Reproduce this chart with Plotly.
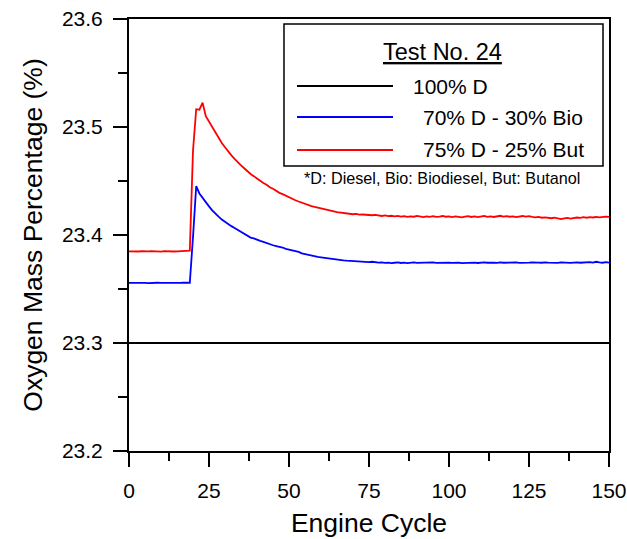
import plotly.graph_objects as go

# Engine cycle index
cycles = list(range(0, 151))

# 100% D: constant oxygen mass fraction
diesel = [23.3] * 151

# 70% D - 30% Bio
bio = [
    23.3556, 23.3557, 23.3555, 23.3556, 23.3558, 23.3556, 23.3555, 23.3557, 23.3556, 23.3558,
    23.3556, 23.3555, 23.3557, 23.3556, 23.3557, 23.3555, 23.3556, 23.3558, 23.3557, 23.3558,
    23.3980, 23.4452, 23.4385, 23.4342, 23.4301, 23.4265, 23.4228, 23.4196, 23.4170, 23.4143,
    23.4120, 23.4103, 23.4082, 23.4064, 23.4048, 23.4030, 23.4012, 23.3992, 23.3976, 23.3968,
    23.3955, 23.3946, 23.3937, 23.3925, 23.3914, 23.3905, 23.3898, 23.3893, 23.3884, 23.3872,
    23.3865, 23.3858, 23.3852, 23.3844, 23.3830, 23.3822, 23.3818, 23.3812, 23.3805, 23.3797,
    23.3793, 23.3788, 23.3786, 23.3780, 23.3776, 23.3772, 23.3769, 23.3765, 23.3762, 23.3760,
    23.3757, 23.3759, 23.3752, 23.3750, 23.3753, 23.3749, 23.3752, 23.3745, 23.3744, 23.3747,
    23.3742, 23.3745, 23.3740, 23.3743, 23.3746, 23.3741, 23.3744, 23.3739, 23.3743, 23.3746,
    23.3742, 23.3744, 23.3741, 23.3745, 23.3743, 23.3747, 23.3742, 23.3744, 23.3748, 23.3743,
    23.3745, 23.3741, 23.3746, 23.3744, 23.3740, 23.3743, 23.3746, 23.3742, 23.3745, 23.3741,
    23.3744, 23.3747, 23.3743, 23.3740, 23.3744, 23.3742, 23.3746, 23.3743, 23.3745, 23.3741,
    23.3744, 23.3747, 23.3742, 23.3745, 23.3748, 23.3744, 23.3746, 23.3742, 23.3745, 23.3743,
    23.3747, 23.3744, 23.3741, 23.3745, 23.3742, 23.3746, 23.3743, 23.3745, 23.3741, 23.3744,
    23.3747, 23.3743, 23.3745, 23.3742, 23.3748, 23.3744, 23.3752, 23.3746, 23.3743, 23.3748,
    23.3744,
]

# 75% D - 25% But
but = [
    23.3848, 23.3846, 23.3849, 23.3847, 23.3850, 23.3846, 23.3848, 23.3851, 23.3847, 23.3849,
    23.3846, 23.3850, 23.3848, 23.3852, 23.3847, 23.3849, 23.3851, 23.3848, 23.3853, 23.3856,
    23.4780, 23.5165, 23.5160, 23.5225, 23.5100, 23.5050, 23.4995, 23.4945, 23.4895, 23.4852,
    23.4812, 23.4770, 23.4738, 23.4705, 23.4672, 23.4645, 23.4618, 23.4590, 23.4565, 23.4545,
    23.4522, 23.4505, 23.4482, 23.4465, 23.4442, 23.4428, 23.4405, 23.4390, 23.4378, 23.4362,
    23.4350, 23.4335, 23.4322, 23.4310, 23.4298, 23.4288, 23.4276, 23.4268, 23.4260, 23.4252,
    23.4245, 23.4238, 23.4230, 23.4225, 23.4218, 23.4212, 23.4208, 23.4205, 23.4201, 23.4198,
    23.4192, 23.4195, 23.4188, 23.4190, 23.4186, 23.4189, 23.4183, 23.4187, 23.4185, 23.4176,
    23.4181, 23.4174, 23.4178, 23.4172, 23.4177, 23.4170, 23.4175, 23.4168, 23.4173, 23.4169,
    23.4176, 23.4171, 23.4165, 23.4172, 23.4168, 23.4174, 23.4167, 23.4171, 23.4176, 23.4169,
    23.4173, 23.4166, 23.4172, 23.4168, 23.4163, 23.4170, 23.4175, 23.4167, 23.4172, 23.4166,
    23.4171, 23.4177, 23.4168, 23.4173, 23.4167, 23.4174, 23.4178, 23.4170, 23.4175, 23.4169,
    23.4173, 23.4166, 23.4171, 23.4176, 23.4170, 23.4174, 23.4168, 23.4163, 23.4167, 23.4160,
    23.4164, 23.4158, 23.4155, 23.4160, 23.4152, 23.4148, 23.4154, 23.4158, 23.4152, 23.4157,
    23.4162, 23.4158, 23.4165, 23.4160, 23.4166, 23.4162, 23.4168, 23.4163, 23.4167, 23.4170,
    23.4168,
]

assert len(bio) == len(cycles) and len(but) == len(cycles)

series_names = ["100% D", "70% D - 30% Bio", "75% D - 25% But"]
series_colors = ["#000000", "#0000ff", "#ff0000"]
series_values = [diesel, bio, but]

FONT = "Arial, 'Liberation Sans', sans-serif"

fig = go.Figure()
for name, color, vals in zip(series_names, series_colors, series_values):
    fig.add_trace(go.Scatter(x=cycles, y=vals, mode="lines", name=name,
                             line=dict(color=color, width=1.8), showlegend=False))

# Legend panel drawn inside the plot
fig.add_shape(type="rect", xref="paper", yref="paper", x0=0.3229, x1=0.9875,
              y0=0.6597, y1=0.9884, line=dict(color="#000000", width=1.5),
              fillcolor="white", layer="above")
fig.add_annotation(xref="paper", yref="paper", x=0.654, y=0.924, text="<u>Test No. 24</u>",
                   showarrow=False, font=dict(family=FONT, size=23.5, color="#000"),
                   xanchor="center", yanchor="middle")
label_x = [0.5875, 0.6083, 0.6083]
label_y = [0.8449, 0.7731, 0.6968]
for name, color, lx, ly in zip(series_names, series_colors, label_x, label_y):
    fig.add_shape(type="line", xref="paper", yref="paper", x0=0.35, x1=0.55, y0=ly, y1=ly,
                  line=dict(color=color, width=1.8), layer="above")
    fig.add_annotation(xref="paper", yref="paper", x=lx, y=ly, text=name, showarrow=False,
                       font=dict(family=FONT, size=21, color="#000"),
                       xanchor="left", yanchor="middle")
fig.add_annotation(xref="paper", yref="paper", x=0.652, y=0.632,
                   text="*D: Diesel, Bio: Biodiesel, But: Butanol", showarrow=False,
                   font=dict(family=FONT, size=16.2, color="#000"),
                   xanchor="center", yanchor="middle")

axis_common = dict(showline=True, linecolor="#000", linewidth=2, mirror=True,
                   ticks="outside", tickcolor="#000", tickwidth=2, ticklen=14,
                   showgrid=False, zeroline=False, automargin=False,
                   tickfont=dict(family=FONT, size=21, color="#000"))

fig.update_xaxes(range=[0, 150], tick0=0, dtick=25, ticklabelstandoff=6,
                 minor=dict(ticks="outside", ticklen=8, tickwidth=2, tickcolor="#000", dtick=12.5),
                 title=dict(text="Engine Cycle", font=dict(family=FONT, size=26.5, color="#000"),
                            standoff=12),
                 **axis_common)
fig.update_yaxes(range=[23.2, 23.6], tick0=23.2, dtick=0.1, tickformat=".1f",
                 ticklabelstandoff=6,
                 minor=dict(ticks="outside", ticklen=9, tickwidth=2, tickcolor="#000", dtick=0.05),
                 title=dict(text="Oxygen Mass Percentage (%)",
                            font=dict(family=FONT, size=26.5, color="#000"), standoff=12),
                 **axis_common)

fig.update_layout(width=627, height=539, margin=dict(l=129, r=18, t=19, b=88),
                  plot_bgcolor="white", paper_bgcolor="white", showlegend=False)

fig.write_html("out.html")
